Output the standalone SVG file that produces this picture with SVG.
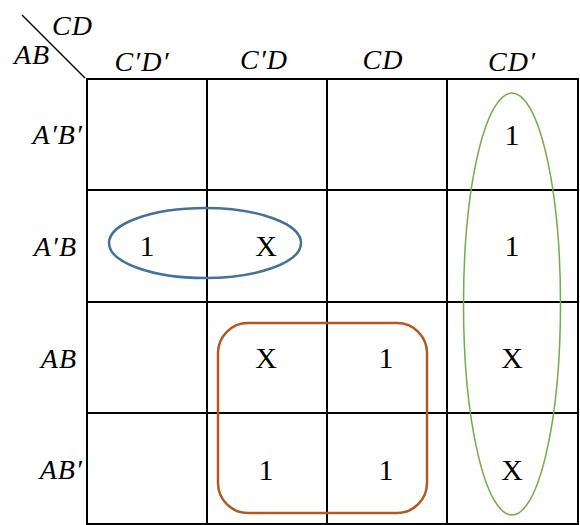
<svg xmlns="http://www.w3.org/2000/svg" width="580" height="525" viewBox="0 0 580 525">
<style>
.grid{stroke:#000;stroke-width:2;fill:none}
.lab{font-family:"Liberation Serif","DejaVu Serif",serif;font-style:italic;font-size:28px;letter-spacing:1px;fill:#000}
.val{font-family:"Liberation Serif","Times New Roman",serif;font-size:30px;fill:#000;text-anchor:middle}
.grp{fill:none}
</style>
<rect width="580" height="525" fill="#fff"/>
<g id="corner">
<line x1="22" y1="15" x2="85" y2="78" stroke="#000" stroke-width="1.5"/>
<text class="lab" x="52" y="35">CD</text>
<text class="lab" x="14" y="64">AB</text>
</g>
<g id="col-headers">
<text class="lab" x="142" y="71" text-anchor="middle">C′D′</text>
<text class="lab" x="264" y="69" text-anchor="middle">C′D</text>
<text class="lab" x="383" y="69" text-anchor="middle">CD</text>
<text class="lab" x="512" y="71" text-anchor="middle">CD′</text>
</g>
<g id="row-headers">
<text class="lab" x="83" y="144" text-anchor="end">A′B′</text>
<text class="lab" x="77" y="256" text-anchor="end">A′B</text>
<text class="lab" x="77" y="368" text-anchor="end">AB</text>
<text class="lab" x="83" y="479" text-anchor="end">AB′</text>
</g>
<g id="grid" class="grid">
<rect x="87" y="79" width="491" height="445"/>
<line x1="207" y1="79" x2="207" y2="524"/>
<line x1="327" y1="79" x2="327" y2="524"/>
<line x1="447" y1="79" x2="447" y2="524"/>
<line x1="87" y1="190" x2="578" y2="190"/>
<line x1="87" y1="302" x2="578" y2="302"/>
<line x1="87" y1="413" x2="578" y2="413"/>
</g>
<g id="values">
<text class="val" x="512" y="145">1</text>
<text class="val" x="147" y="256">1</text>
<text class="val" x="266" y="256">X</text>
<text class="val" x="512" y="256">1</text>
<text class="val" x="266" y="368">X</text>
<text class="val" x="386" y="368">1</text>
<text class="val" x="512" y="368">X</text>
<text class="val" x="266" y="480">1</text>
<text class="val" x="386" y="480">1</text>
<text class="val" x="512" y="480">X</text>
</g>
<g id="groups">
<ellipse id="blue-group" class="grp" cx="205" cy="243" rx="96" ry="35" stroke="#41719C" stroke-width="2.5"/>
<rect id="orange-group" class="grp" x="218" y="323" width="209" height="190" rx="30" ry="30" stroke="#AE5A21" stroke-width="2.5"/>
<ellipse id="green-group" class="grp" cx="512" cy="304" rx="48.5" ry="211" stroke="#70AD47" stroke-width="1.5"/>
</g>
</svg>
